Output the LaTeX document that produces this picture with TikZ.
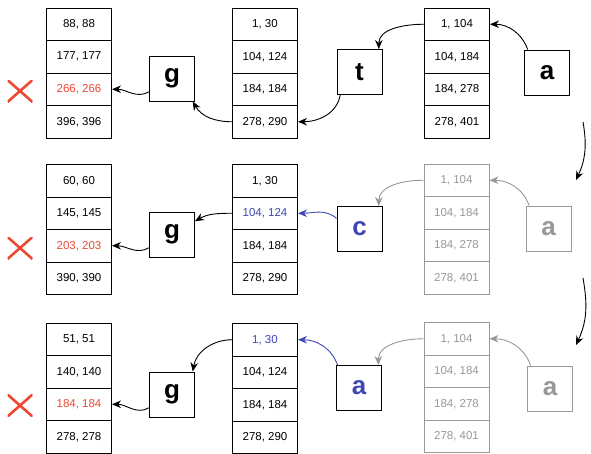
\documentclass[tikz,border=0pt]{standalone}
\usepackage{fontspec}
\setmainfont{Liberation Sans}
\usepackage{xcolor}
\definecolor{missred}{RGB}{238,72,52}
\definecolor{hitblue}{RGB}{62,72,178}
\definecolor{fadegray}{RGB}{152,152,152}
\usepackage{tikz}
\usetikzlibrary{arrows.meta}
\newcommand{\widthcell}{65pt}
\newcommand{\heightcell}{32.5pt}
\newcommand{\sizebox}{45pt}
\tikzset{
    cell/.style={anchor=north west, draw, rectangle, fill=white, line width=1pt,
        minimum width=\widthcell, minimum height=\heightcell, inner sep=0pt,
        font=\fontsize{11.5}{13}\selectfont},
    faded/.style={draw=fadegray, text=fadegray},
    opbox/.style={draw, rectangle, fill=white, line width=1pt, minimum size=\sizebox,
        inner sep=0pt, font=\fontsize{26}{30}\selectfont\bfseries},
    link/.style={-{Stealth[length=9pt, width=7.5pt]}, line width=0.9pt},
    fadelink/.style={link, fadegray},
    hitlink/.style={link, hitblue},
    misscross/.style={minimum width=25pt, minimum height=22pt, inner sep=0pt,
        path picture={
            \draw[missred, line width=2.6pt]
                (path picture bounding box.south east)--(path picture bounding box.north west)
                (path picture bounding box.south west)--(path picture bounding box.north east);
        }
    }
}

\begin{document}
\begin{tikzpicture}[x=1pt, y=-1pt]
    \useasboundingbox (0,0) rectangle (591,453);

    % first lookup: t
    \path (46,7.5) node[cell] (L1a) {88, 88}
        ++(-90:\heightcell) node[cell] (L1b) {177, 177}
        ++(-90:\heightcell) node[cell, text=missred] (L1c) {266, 266}
        ++(-90:\heightcell) node[cell] (L1d) {396, 396};
    \path (232,7.5) node[cell] (M1a) {1, 30}
        ++(-90:\heightcell) node[cell] (M1b) {104, 124}
        ++(-90:\heightcell) node[cell] (M1c) {184, 184}
        ++(-90:\heightcell) node[cell] (M1d) {278, 290};
    \path (424,7.5) node[cell] (R1a) {1, 104}
        ++(-90:\heightcell) node[cell] (R1b) {104, 184}
        ++(-90:\heightcell) node[cell] (R1c) {184, 278}
        ++(-90:\heightcell) node[cell] (R1d) {278, 401};
    \node[opbox] (g1) at (172,78.5) {g};
    \node[opbox] (t1) at (359.5,72) {t};
    \node[opbox] (a1) at (547,72.5) {a};
    \node[misscross] (x1) at (20,91) {};

    \draw[link] (a1.130) to[out=110, in=0] (R1a.east);
    \draw[link] (R1a.west) to[out=180, in=90] (t1.50);
    \draw[link] (t1.230) to[out=-100, in=0] (M1d.east);
    \draw[link] (M1d.west) to[out=180, in=-60] (g1.-48);
    \draw[link] (g1.210) to[out=210, in=0] (L1c.east);

    % second lookup: c
    \path (46,164) node[cell] (L2a) {60, 60}
        ++(-90:\heightcell) node[cell] (L2b) {145, 145}
        ++(-90:\heightcell) node[cell, text=missred] (L2c) {203, 203}
        ++(-90:\heightcell) node[cell] (L2d) {390, 390};
    \path (232,164) node[cell] (M2a) {1, 30}
        ++(-90:\heightcell) node[cell, text=hitblue] (M2b) {104, 124}
        ++(-90:\heightcell) node[cell] (M2c) {184, 184}
        ++(-90:\heightcell) node[cell] (M2d) {278, 290};
    \path (423.5,163.5) node[cell, faded] (R2a) {1, 104}
        ++(-90:\heightcell) node[cell, faded] (R2b) {104, 184}
        ++(-90:\heightcell) node[cell, faded] (R2c) {184, 278}
        ++(-90:\heightcell) node[cell, faded] (R2d) {278, 401};
    \node[opbox] (g2) at (172,234.5) {g};
    \node[opbox, text=hitblue] (c2) at (359.5,229) {c};
    \node[opbox, faded] (a2) at (548.5,228.5) {a};
    \node[misscross] (x2) at (20,248) {};

    \draw[fadelink] (a2.130) to[out=110, in=0] (R2a.east);
    \draw[fadelink] (R2a.west) to[out=180, in=90] (c2.50);
    \draw[hitlink] (c2.155) to[out=140, in=0] (M2b.east);
    \draw[link] (M2b.west) to[out=180, in=30] (g2.30);
    \draw[link] (g2.210) to[out=210, in=0] (L2c.east);

    % third lookup: a
    \path (46,322.5) node[cell] (L3a) {51, 51}
        ++(-90:\heightcell) node[cell] (L3b) {140, 140}
        ++(-90:\heightcell) node[cell, text=missred] (L3c) {184, 184}
        ++(-90:\heightcell) node[cell] (L3d) {278, 278};
    \path (232,323) node[cell, text=hitblue] (M3a) {1, 30}
        ++(-90:\heightcell) node[cell] (M3b) {104, 124}
        ++(-90:\heightcell) node[cell] (M3c) {184, 184}
        ++(-90:\heightcell) node[cell] (M3d) {278, 290};
    \path (423.5,322) node[cell, faded] (R3a) {1, 104}
        ++(-90:\heightcell) node[cell, faded] (R3b) {104, 184}
        ++(-90:\heightcell) node[cell, faded] (R3c) {184, 278}
        ++(-90:\heightcell) node[cell, faded] (R3d) {278, 401};
    \node[opbox] (g3) at (172,394.5) {g};
    \node[opbox, text=hitblue] (ab3) at (359,388) {a};
    \node[opbox, faded] (a3) at (550,388.5) {a};
    \node[misscross] (x3) at (20,405.5) {};

    \draw[fadelink] (a3.130) to[out=110, in=0] (R3a.east);
    \draw[fadelink] (R3a.west) to[out=180, in=90] (ab3.50);
    \draw[hitlink] (ab3.133) to[out=110, in=0] (M3a.east);
    \draw[link] (M3a.west) to[out=180, in=80] (g3.48);
    \draw[link] (g3.210) to[out=210, in=0] (L3c.east);

    % steps between lookups
    \coordinate (n1) at (583,122);
    \coordinate (n1e) at (576,180);
    \coordinate (n2) at (583,278);
    \coordinate (n2e) at (576,345);
    \draw[link] (n1) to[out=-80, in=65] (n1e);
    \draw[link] (n2) to[out=-80, in=65] (n2e);
\end{tikzpicture}
\end{document}
